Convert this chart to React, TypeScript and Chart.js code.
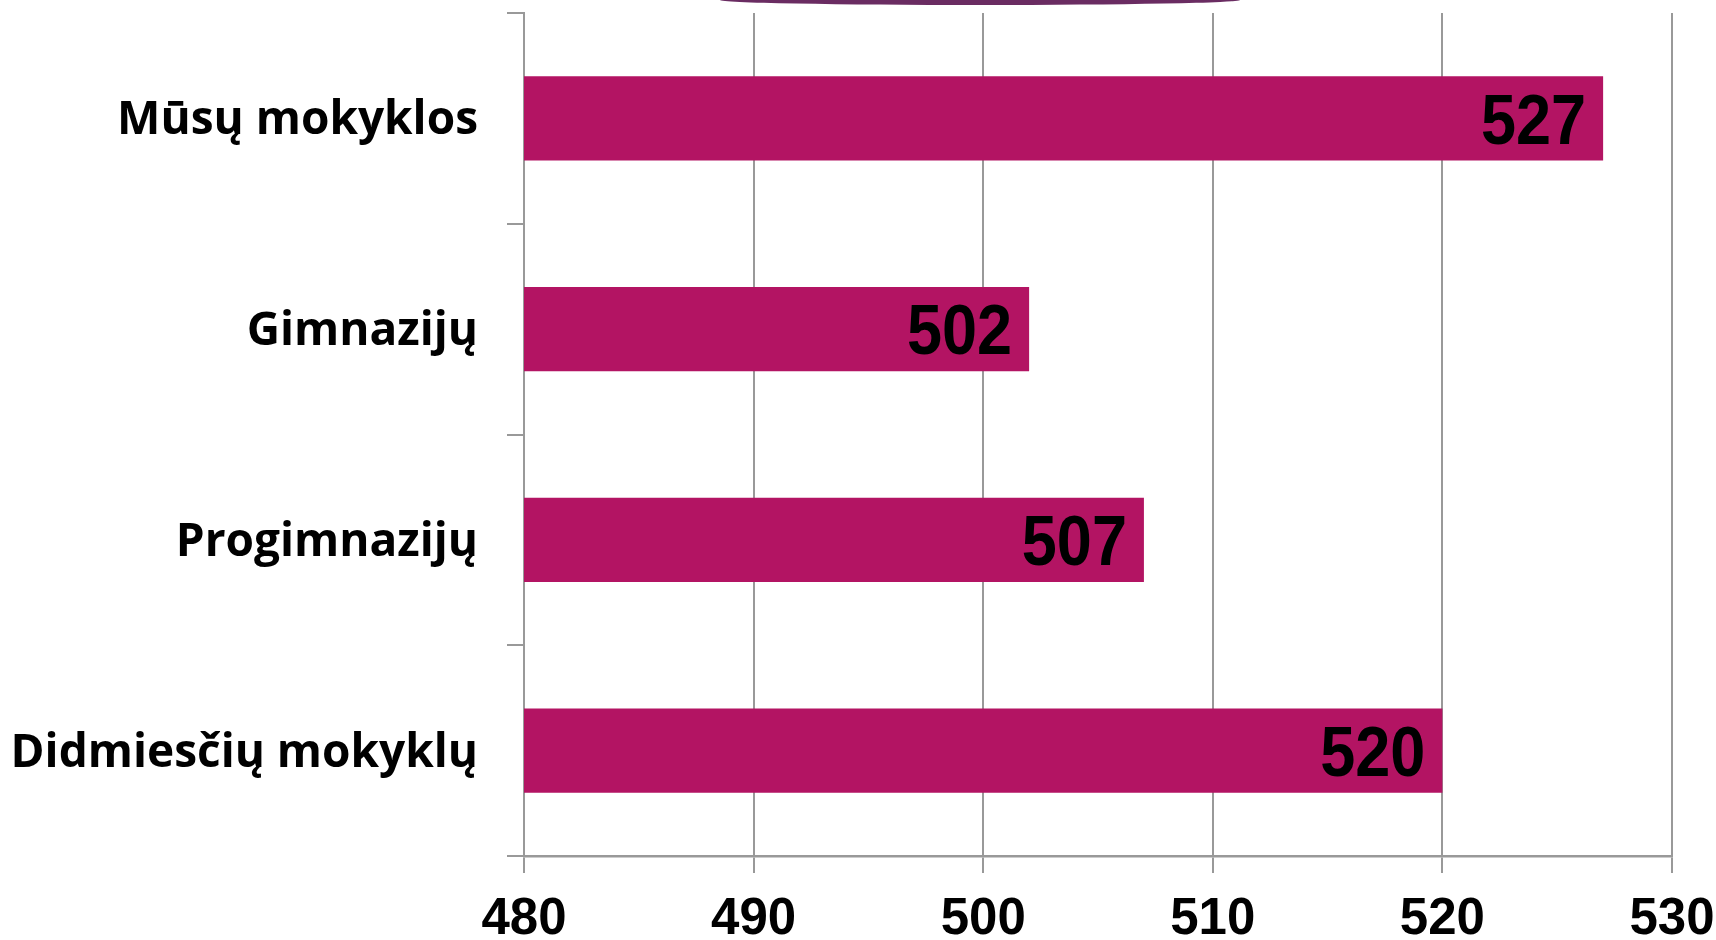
import React, { useEffect, useRef } from "react";
import { Chart, registerables } from "chart.js";

Chart.register(...registerables);

const categories: string[] = ["Mūsų mokyklos", "Gimnazijų", "Progimnazijų", "Didmiesčių mokyklų"];
const scores: number[] = [527, 502, 507, 520];
const axisMin = 480;
const axisMax = 530;
const axisStep = 10;

const BAR_COLOR = "#B31463";
const GRID_COLOR = "#999999";

const valueLabelPlugin = {
  id: "valueLabels",
  afterDatasetsDraw(chart: any) {
    const ctx = chart.ctx;
    const meta = chart.getDatasetMeta(0);
    meta.data.forEach((bar: any, i: number) => {
      const p = bar.getProps(["x", "y"], true);
      ctx.save();
      ctx.font = 'bold 70px "Liberation Sans", Arial, sans-serif';
      ctx.fillStyle = "#000000";
      ctx.textAlign = "right";
      ctx.textBaseline = "middle";
      ctx.translate(p.x - 17, p.y + 6);
      ctx.scale(0.9, 1);
      ctx.fillText(String(scores[i]), 0, 0);
      ctx.restore();
    });
  },
};

export default function App() {
  const canvasRef = useRef<HTMLCanvasElement | null>(null);

  useEffect(() => {
    document.body.style.margin = "0";
    const canvas = canvasRef.current;
    if (!canvas) return;
    const chart = new Chart(canvas, {
      type: "bar",
      data: {
        labels: categories,
        datasets: [
          {
            data: scores,
            backgroundColor: BAR_COLOR,
            borderWidth: 0,
            barPercentage: 0.5,
            categoryPercentage: 0.8,
          },
        ],
      },
      plugins: [valueLabelPlugin],
      options: {
        indexAxis: "y",
        animation: false,
        responsive: true,
        maintainAspectRatio: false,
        layout: { padding: { top: 13, right: 0, left: 0, bottom: 0 } },
        plugins: {
          legend: { display: false },
          tooltip: { enabled: false },
          title: { display: false },
        },
        scales: {
          x: {
            type: "linear",
            min: axisMin,
            max: axisMax,
            ticks: {
              stepSize: axisStep,
              color: "#000000",
              padding: 21,
              font: { family: '"Liberation Sans", Arial, sans-serif', size: 51, weight: "bold", lineHeight: 1 },
            },
            grid: {
              color: GRID_COLOR,
              lineWidth: 2,
              tickLength: 17,
              drawTicks: true,
            },
            border: { color: GRID_COLOR, width: 2.5 },
            afterFit: (scale: any) => {
              scale.height = 84;
              scale.paddingLeft = 0;
              scale.paddingRight = 44;
            },
          },
          y: {
            type: "category",
            ticks: {
              color: "#000000",
              padding: 29,
              labelOffset: 3,
              font: { family: '"Open Sans", sans-serif', size: 46, weight: "bold" },
            },
            grid: {
              color: GRID_COLOR,
              lineWidth: 2,
              tickLength: 17,
              drawOnChartArea: false,
              drawTicks: true,
              offset: true,
            },
            border: { color: GRID_COLOR, width: 2 },
            afterFit: (scale: any) => {
              scale.width = 524;
              scale.paddingTop = 0;
              scale.paddingBottom = 0;
            },
          },
        },
      },
    });
    return () => chart.destroy();
  }, []);

  return (
    <div style={{ position: "relative", width: 1716, height: 940, overflow: "hidden", background: "#ffffff" }}>
      <div
        style={{
          position: "absolute",
          left: 720,
          top: -5,
          width: 520,
          height: 10,
          borderRadius: "50%",
          background: "#6A2C62",
        }}
      />
      <canvas ref={canvasRef} />
    </div>
  );
}
